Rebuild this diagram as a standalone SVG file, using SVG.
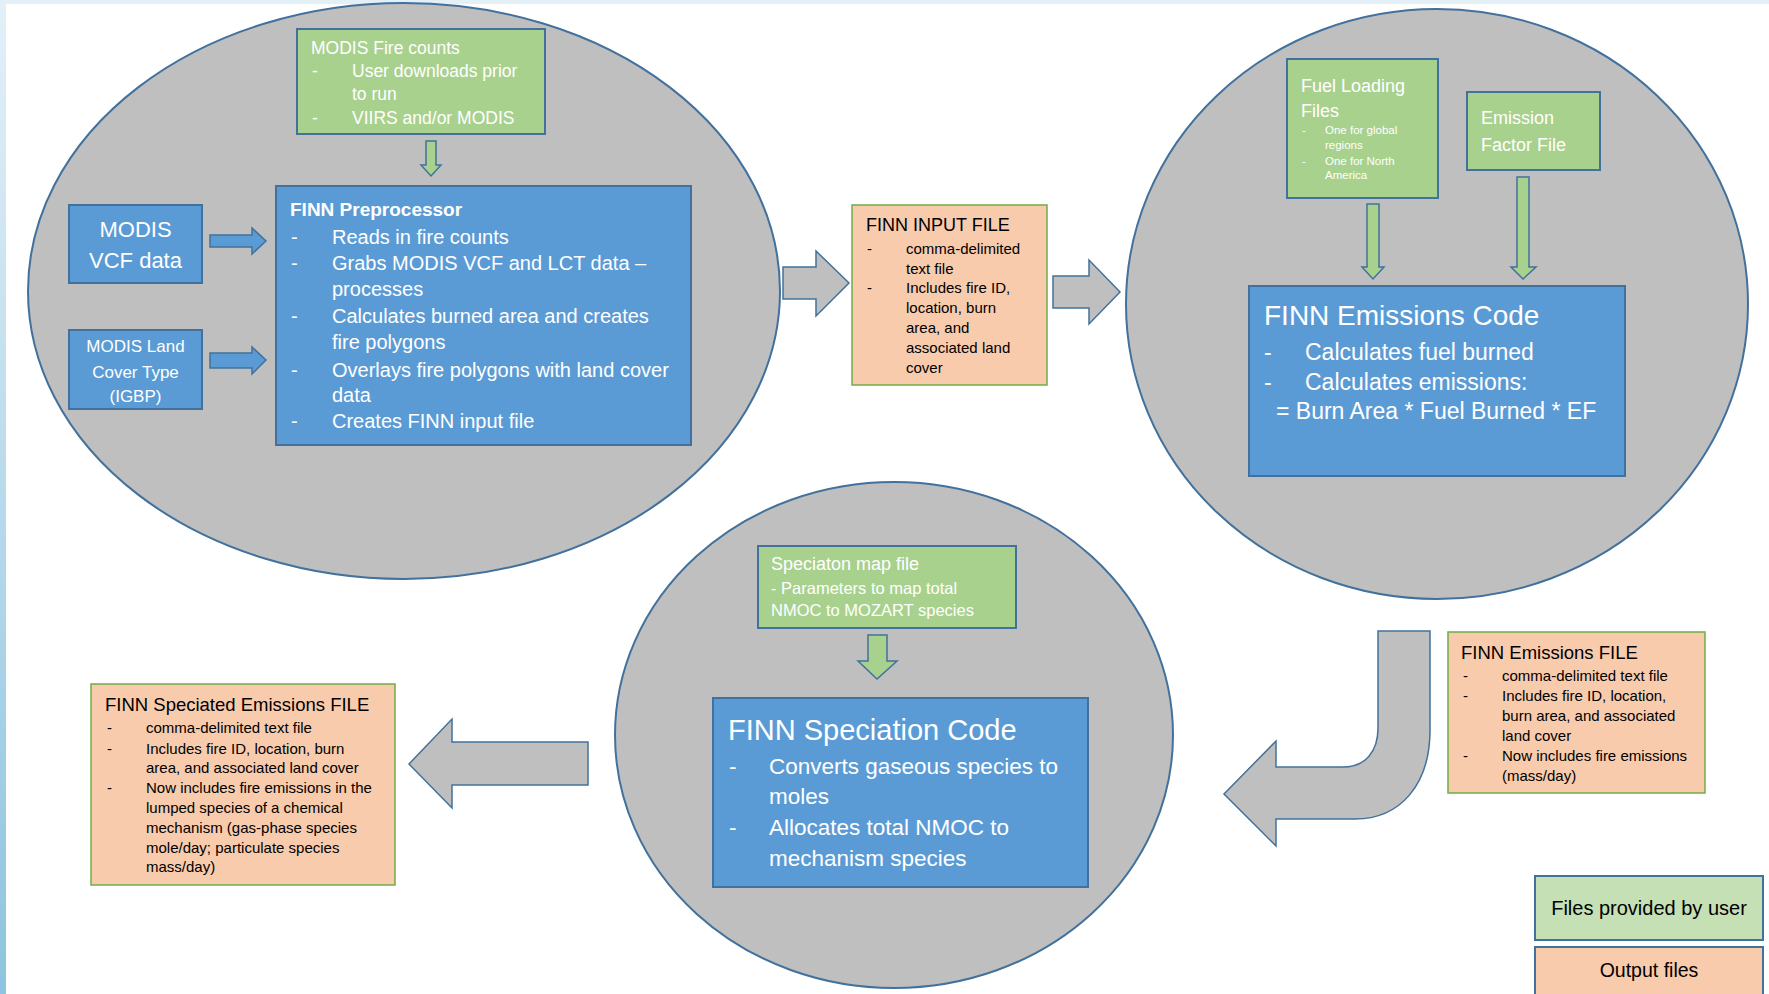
<svg xmlns="http://www.w3.org/2000/svg" width="1769" height="994" viewBox="0 0 1769 994">
<defs>
<linearGradient id="lstrip" x1="0" y1="0" x2="0" y2="1">
<stop offset="0" stop-color="#e3f0f8"/>
<stop offset="1" stop-color="#8dc4df"/>
</linearGradient>
<style>
text{font-family:"Liberation Sans",Arial,sans-serif}
.ell{fill:#bfbfbf;stroke:#41719c;stroke-width:2}
.blue{fill:#5b9bd5;stroke:#41719c;stroke-width:2}
.green{fill:#a9d18e;stroke:#41719c;stroke-width:2}
.orange{fill:#f8cbad;stroke:#70ad47;stroke-width:1.5}
.lgreen{fill:#c5e0b4;stroke:#41719c;stroke-width:2}
.lorange{fill:#f8cbad;stroke:#41719c;stroke-width:2}
.garrow{fill:#a9d18e;stroke:#41719c;stroke-width:1.5}
.barrow{fill:#5b9bd5;stroke:#41719c;stroke-width:1.5}
.grarrow{fill:#bfbfbf;stroke:#41719c;stroke-width:1.5}
.w{fill:#ffffff}
.k{fill:#000000}
</style>
</defs>
<rect x="0" y="0" width="1769" height="994" fill="#ffffff"/>
<rect x="0" y="0" width="1769" height="4" fill="#e3f0f8"/>
<rect x="0" y="0" width="6" height="994" fill="url(#lstrip)"/>

<g id="ellipses">
<ellipse class="ell" cx="404" cy="291" rx="376" ry="288"/>
<ellipse class="ell" cx="1437" cy="304" rx="311" ry="295"/>
<ellipse class="ell" cx="894" cy="735" rx="279" ry="253"/>
</g>

<g id="connectors">
<path class="garrow" d="M426,141 L436,141 L436,165 L441,165 L431,176 L421,165 L426,165 Z"/>
<path class="barrow" d="M210,235 L252,235 L252,228 L266,241 L252,254 L252,247 L210,247 Z"/>
<path class="barrow" d="M210,353 L252,353 L252,347 L266,360 L252,374 L252,368 L210,368 Z"/>
<path class="grarrow" d="M783,267 L816,267 L816,251 L849,283 L816,316 L816,299 L783,299 Z"/>
<path class="grarrow" d="M1053,276 L1089,276 L1089,260 L1120,292 L1089,324 L1089,308 L1053,308 Z"/>
<path class="garrow" d="M1367,204 L1379,204 L1379,267 L1384,267 L1373,279 L1362,267 L1367,267 Z"/>
<path class="garrow" d="M1517,177 L1529,177 L1529,267 L1536,267 L1523,279 L1511,267 L1517,267 Z"/>
<path class="garrow" d="M868,635 L887,635 L887,661 L897,661 L877,679 L858,661 L868,661 Z"/>
<path class="grarrow" d="M588,742 L452,742 L452,719 L409,764 L452,808 L452,785 L588,785 Z"/>
<path class="grarrow" d="M1378,631 L1430,631 L1430,730 C1430,785 1400,819 1355,819 L1276,819 L1276,846 L1224,794 L1276,741 L1276,767 L1343,767 C1365,767 1378,752 1378,728 Z"/>
</g>

<g id="modis-fire">
<rect class="green" x="297" y="29" width="248" height="105"/>
<text class="w" font-size="17.5" x="311" y="54">MODIS Fire counts</text>
<text class="w" font-size="17.5" x="312" y="77">-</text>
<text class="w" font-size="17.5" x="352" y="77">User downloads prior</text>
<text class="w" font-size="17.5" x="352" y="100">to run</text>
<text class="w" font-size="17.5" x="312" y="124">-</text>
<text class="w" font-size="17.5" x="352" y="124">VIIRS and/or MODIS</text>
</g>

<g id="modis-vcf">
<rect class="blue" x="69" y="205" width="133" height="78"/>
<text class="w" font-size="22" x="135.5" y="237" text-anchor="middle">MODIS</text>
<text class="w" font-size="22" x="135.5" y="268" text-anchor="middle">VCF data</text>
</g>

<g id="modis-land">
<rect class="blue" x="69" y="330" width="133" height="79"/>
<text class="w" font-size="17" x="135.5" y="352" text-anchor="middle">MODIS Land</text>
<text class="w" font-size="17" x="135.5" y="378" text-anchor="middle">Cover Type</text>
<text class="w" font-size="17" x="135.5" y="402" text-anchor="middle">(IGBP)</text>
</g>

<g id="preprocessor">
<rect class="blue" x="276" y="186" width="415" height="259"/>
<text class="w" font-size="19" font-weight="bold" x="290" y="216">FINN Preprocessor</text>
<g class="w" font-size="20">
<text x="291" y="244">-</text><text x="332" y="244">Reads in fire counts</text>
<text x="291" y="270">-</text><text x="332" y="270">Grabs MODIS VCF and LCT data –</text>
<text x="332" y="296">processes</text>
<text x="291" y="323">-</text><text x="332" y="323">Calculates burned area and creates</text>
<text x="332" y="349">fire polygons</text>
<text x="291" y="377">-</text><text x="332" y="377">Overlays fire polygons with land cover</text>
<text x="332" y="402">data</text>
<text x="291" y="428">-</text><text x="332" y="428">Creates FINN input file</text>
</g>
</g>

<g id="input-file">
<rect class="orange" x="852" y="205" width="195" height="180"/>
<text class="k" font-size="18" x="866" y="231">FINN INPUT FILE</text>
<g class="k" font-size="15">
<text x="867" y="254">-</text><text x="906" y="254">comma-delimited</text>
<text x="906" y="274">text file</text>
<text x="867" y="293">-</text><text x="906" y="293">Includes fire ID,</text>
<text x="906" y="313">location, burn</text>
<text x="906" y="333">area, and</text>
<text x="906" y="353">associated land</text>
<text x="906" y="373">cover</text>
</g>
</g>

<g id="fuel-loading">
<rect class="green" x="1287" y="59" width="151" height="139"/>
<text class="w" font-size="18" x="1301" y="92">Fuel Loading</text>
<text class="w" font-size="18" x="1301" y="117">Files</text>
<g class="w" font-size="11.5">
<text x="1302" y="134">-</text><text x="1325" y="134">One for global</text>
<text x="1325" y="149">regions</text>
<text x="1302" y="165">-</text><text x="1325" y="165">One for North</text>
<text x="1325" y="179">America</text>
</g>
</g>

<g id="emission-factor">
<rect class="green" x="1467" y="92" width="133" height="78"/>
<text class="w" font-size="18" x="1481" y="124">Emission</text>
<text class="w" font-size="18" x="1481" y="151">Factor File</text>
</g>

<g id="emissions-code">
<rect class="blue" x="1249" y="286" width="376" height="190"/>
<text class="w" font-size="28" x="1264" y="325">FINN Emissions Code</text>
<g class="w" font-size="23">
<text x="1264" y="360">-</text><text x="1305" y="360">Calculates fuel burned</text>
<text x="1264" y="390">-</text><text x="1305" y="390">Calculates emissions:</text>
<text x="1276" y="419">= Burn Area * Fuel Burned * EF</text>
</g>
</g>

<g id="speciation-map">
<rect class="green" x="758" y="546" width="258" height="82"/>
<text class="w" font-size="18" x="771" y="570">Speciaton map file</text>
<text class="w" font-size="16.5" x="771" y="594">- Parameters to map total</text>
<text class="w" font-size="16.5" x="771" y="616">NMOC to MOZART species</text>
</g>

<g id="speciation-code">
<rect class="blue" x="713" y="698" width="375" height="189"/>
<text class="w" font-size="29" x="728" y="740">FINN Speciation Code</text>
<g class="w" font-size="22.5">
<text x="729" y="774">-</text><text x="769" y="774">Converts gaseous species to</text>
<text x="769" y="804">moles</text>
<text x="729" y="835">-</text><text x="769" y="835">Allocates total NMOC to</text>
<text x="769" y="866">mechanism species</text>
</g>
</g>

<g id="speciated-file">
<rect class="orange" x="91" y="684" width="304" height="201"/>
<text class="k" font-size="18.5" x="105" y="711">FINN Speciated Emissions FILE</text>
<g class="k" font-size="15">
<text x="107" y="733">-</text><text x="146" y="733">comma-delimited text file</text>
<text x="107" y="754">-</text><text x="146" y="754">Includes fire ID, location, burn</text>
<text x="146" y="773">area, and associated land cover</text>
<text x="107" y="793">-</text><text x="146" y="793">Now includes fire emissions in the</text>
<text x="146" y="813">lumped species of a chemical</text>
<text x="146" y="833">mechanism (gas-phase species</text>
<text x="146" y="853">mole/day; particulate species</text>
<text x="146" y="872">mass/day)</text>
</g>
</g>

<g id="emissions-file">
<rect class="orange" x="1448" y="632" width="257" height="161"/>
<text class="k" font-size="18.5" x="1461" y="659">FINN Emissions FILE</text>
<g class="k" font-size="15">
<text x="1463" y="681">-</text><text x="1502" y="681">comma-delimited text file</text>
<text x="1463" y="701">-</text><text x="1502" y="701">Includes fire ID, location,</text>
<text x="1502" y="721">burn area, and associated</text>
<text x="1502" y="741">land cover</text>
<text x="1463" y="761">-</text><text x="1502" y="761">Now includes fire emissions</text>
<text x="1502" y="781">(mass/day)</text>
</g>
</g>

<g id="legend-user">
<rect class="lgreen" x="1535" y="876" width="228" height="64"/>
<text class="k" font-size="20" x="1649" y="915" text-anchor="middle">Files provided by user</text>
</g>
<g id="legend-output">
<rect class="lorange" x="1535" y="947" width="228" height="60"/>
<text class="k" font-size="19.5" x="1649" y="977" text-anchor="middle">Output files</text>
</g>
</svg>
